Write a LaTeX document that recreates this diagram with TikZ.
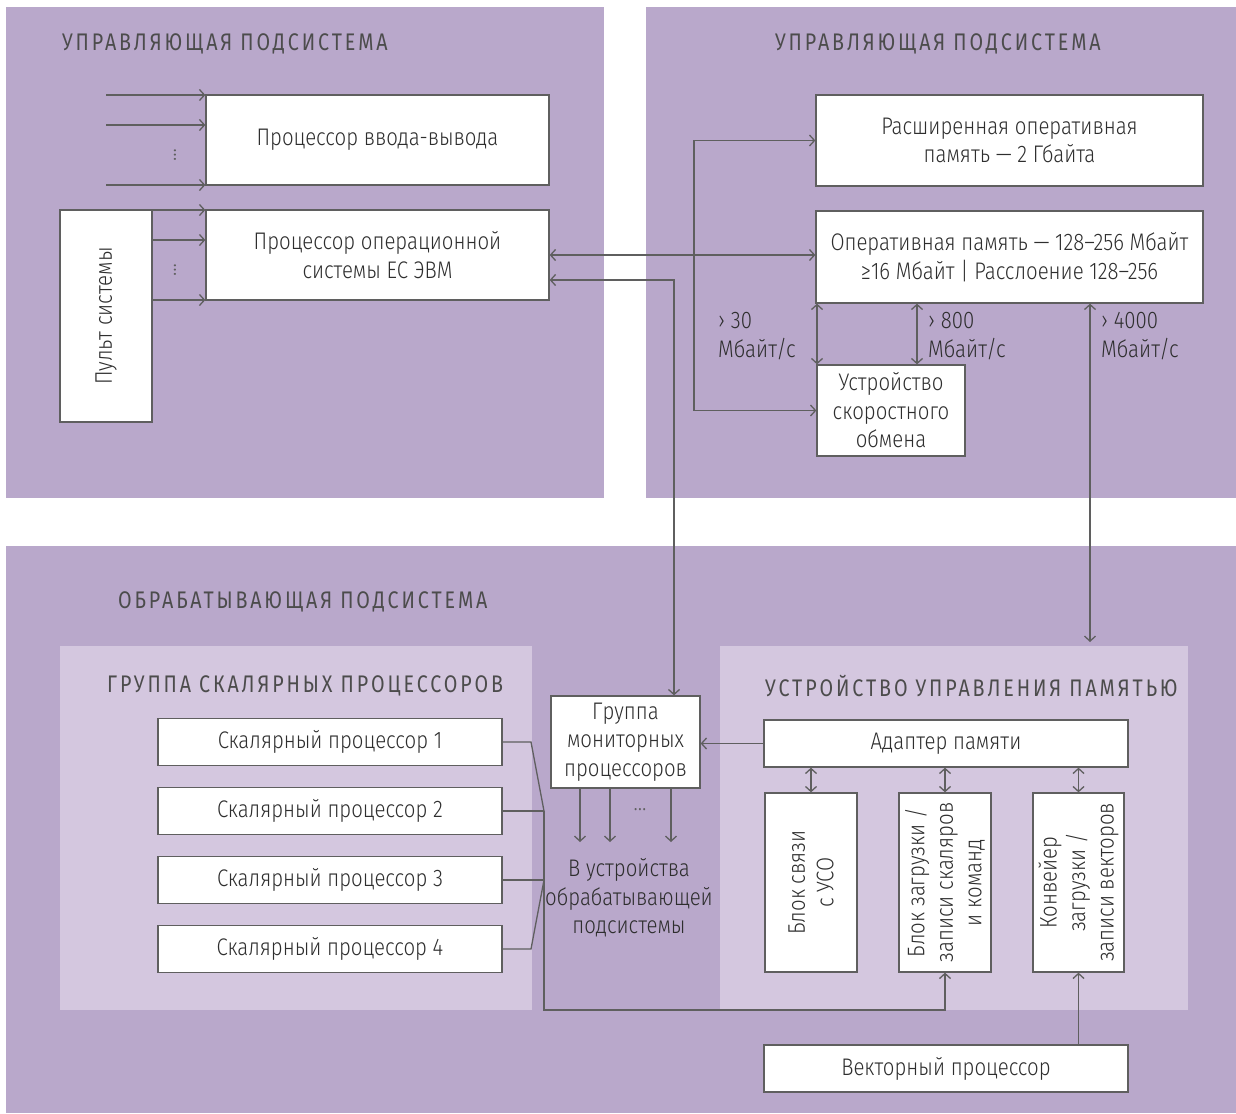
\documentclass[tikz,border=0pt]{standalone}
\usepackage{fontspec}
\setmainfont{Fira Sans}[UprightFont=* Light, FakeStretch=0.85]
\newfontfamily\titlefont{Fira Sans}[FakeStretch=0.82, LetterSpace=12]
\usetikzlibrary{arrows.meta, calc}
\definecolor{outerbg}{HTML}{B9A8CB}
\definecolor{innerbg}{HTML}{D4C7DF}
\definecolor{linec}{HTML}{5F5F5F}
\definecolor{textc}{HTML}{2E2E2E}
\definecolor{titlec}{HTML}{4C4C4C}
\begin{document}
\begin{tikzpicture}[x=1pt,y=-1pt,
  box/.style={draw=linec, line width=1.3pt, fill=white, text=textc,
    font=\fontsize{24}{28.5}\selectfont, align=center, inner sep=0pt},
  txt/.style={text=textc, font=\fontsize{24}{28.5}\selectfont, align=center, inner sep=0pt},
  ltxt/.style={text=textc, font=\fontsize{24}{28.5}\selectfont, align=left, inner sep=0pt, anchor=west},
  ttl/.style={text=titlec, font=\titlefont\fontsize{24}{26}\selectfont, inner sep=0pt, anchor=west},
  conn/.style={draw=linec, line width=1.3pt},
  arr/.style={conn, -{Straight Barb[length=5pt,width=11pt]}},
  darr/.style={conn, {Straight Barb[length=5pt,width=11pt]}-{Straight Barb[length=5pt,width=11pt]}},
]
\useasboundingbox (0,0) rectangle (1236,1113);
% panels
\fill[outerbg] (6,7) rectangle (604,498);
\fill[outerbg] (646,7) rectangle (1236,498);
\fill[outerbg] (6,546) rectangle (1236,1113);
\fill[innerbg] (60,646) rectangle (532,1010);
\fill[innerbg] (720,646) rectangle (1188,1010);
% titles
\node[ttl] (t1) at (62,44) {УПРАВЛЯЮЩАЯ ПОДСИСТЕМА};
\node[ttl] (t2) at (775,44) {УПРАВЛЯЮЩАЯ ПОДСИСТЕМА};
\node[ttl] (t3) at (118,602) {ОБРАБАТЫВАЮЩАЯ ПОДСИСТЕМА};
\node[ttl] (t4) at (107,686) {ГРУППА СКАЛЯРНЫХ ПРОЦЕССОРОВ};
\node[ttl] (t5) at (765,686) {УСТРОЙСТВО УПРАВЛЕНИЯ ПАМЯТЬЮ};
% top-left boxes
\node[box, minimum width=343, minimum height=90] (io) at (377.5,140) {Процессор ввода-вывода};
\node[box, minimum width=343, minimum height=90] (os) at (377.5,255) {Процессор операционной\\системы ЕС ЭВМ};
\node[box, minimum width=92, minimum height=212] (pult) at (106,316) {};
\node[txt, rotate=90] (pultt) at (pult.center) {Пульт системы};
% top-right boxes
\node[box, minimum width=387, minimum height=91] (ext) at (1009.5,140.5) {Расширенная оперативная\\память — 2 Гбайта};
\node[box, minimum width=387, minimum height=92] (mem) at (1009.5,257) {Оперативная память — 128–256 Мбайт\\≥16 Мбайт | Расслоение 128–256};
\node[box, minimum width=148, minimum height=91] (uso) at (891,410.5) {Устройство\\скоростного\\обмена};
% bottom boxes
\node[box, minimum width=344, minimum height=47] (sp1) at (330,742) {Скалярный процессор 1};
\node[box, minimum width=344, minimum height=47] (sp2) at (330,811) {Скалярный процессор 2};
\node[box, minimum width=344, minimum height=47] (sp3) at (330,880) {Скалярный процессор 3};
\node[box, minimum width=344, minimum height=47] (sp4) at (330,949) {Скалярный процессор 4};
\node[box, minimum width=149, minimum height=92] (mon) at (625.5,742) {Группа\\мониторных\\процессоров};
\node[txt] (dest) at (629,898) {В устройства\\обрабатывающей\\подсистемы};
\node[box, minimum width=364, minimum height=47] (adp) at (946,743.5) {Адаптер памяти};
\node[box, minimum width=92, minimum height=179] (bA) at (811,882.5) {};
\node[box, minimum width=92, minimum height=179] (bB) at (945,882.5) {};
\node[box, minimum width=91, minimum height=179] (bC) at (1078.5,882.5) {};
\node[txt, rotate=90] (bAt) at (bA.center) {Блок связи\\с УСО};
\node[txt, rotate=90] (bBt) at (bB.center) {Блок загрузки /\\записи скаляров\\и команд};
\node[txt, rotate=90] (bCt) at (bC.center) {Конвейер\\загрузки /\\записи векторов};
\node[box, minimum width=364, minimum height=47] (vec) at (946,1068.5) {Векторный процессор};
% speed labels
\node[ltxt] (l30) at (718,336) {› 30\\Мбайт/с};
\node[ltxt] (l800) at (928,336) {› 800\\Мбайт/с};
\node[ltxt] (l4000) at (1101,336) {› 4000\\Мбайт/с};
% dots
\node[txt, rotate=90, text=linec] (d1) at (175,155) {…};
\node[txt, rotate=90, text=linec] (d2) at (175,270) {…};
\node[txt, text=linec] (d3) at (640,810) {…};
% input arrows
\coordinate (i1) at (106,95);
\coordinate (i2) at (106,125);
\coordinate (i3) at (106,185);
\coordinate (i4) at (106,210);
\coordinate (i5) at (152,240);
\coordinate (i6) at (152,300);
\draw[arr] (i1) -- (i1 -| io.west);
\draw[arr] (i2) -- (i2 -| io.west);
\draw[arr] (i3) -- (i3 -| io.west);
\draw[arr] (i4) -- (i4 -| os.west);
\draw[arr] (i5) -- (i5 -| os.west);
\draw[arr] (i6) -- (i6 -| os.west);
% OS <-> memory
\draw[darr] (os.east) -- (os.east -| mem.west);
\coordinate (br) at (694,255);
\draw[arr] (br) |- (ext.west);
\draw[arr] (br) |- (uso.west);
% OS <-> monitor group
\coordinate (m1) at (674,280);
\draw[darr] (os.east |- m1) -- (m1) -- (m1 |- mon.north);
% memory <-> exchange
\coordinate (e1) at (817,0);
\coordinate (e2) at (917,0);
\draw[darr] (e1 |- mem.south) -- (e1 |- uso.north);
\draw[darr] (e2 |- mem.south) -- (e2 |- uso.north);
% memory <-> memory control
\coordinate (mc) at (1090,642);
\draw[darr] (mc |- mem.south) -- (mc);
% monitor outputs
\coordinate (o1) at (580,842);
\coordinate (o2) at (610,842);
\coordinate (o3) at (671,842);
\draw[arr] (o1 |- mon.south) -- (o1);
\draw[arr] (o2 |- mon.south) -- (o2);
\draw[arr] (o3 |- mon.south) -- (o3);
% adapter
\draw[arr] (adp.west) -- (adp.west -| mon.east);
\draw[darr] (bA.north |- adp.south) -- (bA.north);
\draw[darr] (bB.north |- adp.south) -- (bB.north);
\draw[darr] (bC.north |- adp.south) -- (bC.north);
\draw[arr] (bC.south |- vec.north) -- (bC.south);
% scalar bus
\coordinate (s1) at (531,742);
\coordinate (s4) at (531,949);
\coordinate (bus2) at (544,811);
\coordinate (bus3) at (544,880);
\coordinate (busb) at (544,1010);
\draw[conn] (sp1.east) -- (s1) -- (bus2);
\draw[conn] (sp2.east) -- (bus2);
\draw[conn] (sp3.east) -- (bus3);
\draw[conn] (sp4.east) -- (s4) -- (bus3);
\draw[arr] (bus2) -- (busb) -| (bB.south);
\end{tikzpicture}
\end{document}
